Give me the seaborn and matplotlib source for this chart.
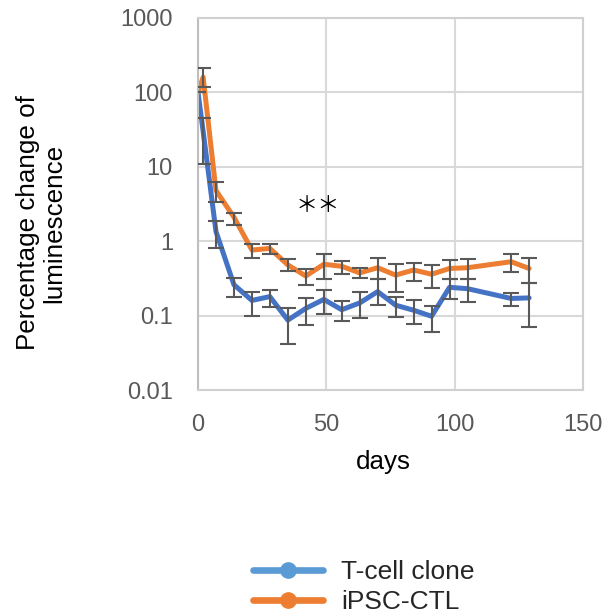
import numpy as np
import pandas as pd
import matplotlib
matplotlib.use("Agg")
import matplotlib.pyplot as plt
from matplotlib.lines import Line2D
import seaborn as sns

# ---- data ----
series_names = ["T-cell clone", "iPSC-CTL"]

tcell_days = [0, 2, 7, 14, 21, 28, 35, 42, 49, 56, 63, 70, 77, 84, 91, 98, 105, 122, 129]
tcell_vals = [100, 30, 1.35, 0.26, 0.16, 0.18, 0.087, 0.125, 0.165, 0.12, 0.148, 0.21,
              0.138, 0.118, 0.098, 0.24, 0.23, 0.17, 0.173]
tcell_hi = [100, 45, 1.86, 0.32, 0.21, 0.22, 0.128, 0.175, 0.22, 0.158, 0.21, 0.31,
            0.18, 0.16, 0.134, 0.31, 0.31, 0.20, 0.275]
tcell_lo = [100, 11, 0.81, 0.18, 0.10, 0.13, 0.041, 0.074, 0.105, 0.085, 0.094, 0.138,
            0.096, 0.077, 0.06, 0.165, 0.15, 0.134, 0.07]

ipsc_days = [0, 2, 7, 14, 21, 28, 35, 42, 49, 56, 63, 70, 77, 84, 91, 98, 105, 122, 129]
ipsc_vals = [100, 160, 4.8, 2.1, 0.76, 0.80, 0.48, 0.34, 0.49, 0.46, 0.375, 0.44,
             0.35, 0.41, 0.36, 0.43, 0.44, 0.53, 0.43]
ipsc_hi = [100, 212, 6.3, 2.36, 0.91, 0.91, 0.57, 0.42, 0.67, 0.55, 0.43, 0.59,
           0.49, 0.51, 0.48, 0.56, 0.57, 0.67, 0.59]
ipsc_lo = [100, 118, 3.4, 1.64, 0.60, 0.68, 0.40, 0.26, 0.31, 0.36, 0.32, 0.31,
           0.21, 0.29, 0.236, 0.31, 0.31, 0.39, 0.275]

y_ticks = [0.01, 0.1, 1, 10, 100, 1000]
y_tick_labels = ["0.01", "0.1", "1", "10", "100", "1000"]
x_ticks = [0, 50, 100, 150]
x_tick_labels = ["0", "50", "100", "150"]

line_colors = {"T-cell clone": "#4472C4", "iPSC-CTL": "#ED7D31"}
legend_colors = {"T-cell clone": "#5B9BD5", "iPSC-CTL": "#ED7D31"}

# ---- build table ----
df = pd.concat([
    pd.DataFrame({"days": tcell_days, "value": tcell_vals, "hi": tcell_hi, "lo": tcell_lo,
                  "series": "T-cell clone"}),
    pd.DataFrame({"days": ipsc_days, "value": ipsc_vals, "hi": ipsc_hi, "lo": ipsc_lo,
                  "series": "iPSC-CTL"}),
], ignore_index=True)

sns.set_theme(style="white")
plt.rcParams["font.family"] = ["Liberation Sans", "DejaVu Sans"]

fig = plt.figure(figsize=(6.07, 6.13), dpi=100)
ax = fig.add_axes([198 / 607, 1 - 390 / 613, (583 - 198) / 607, (390 - 18) / 613])

sns.lineplot(data=df, x="days", y="value", hue="series", hue_order=series_names,
             palette=line_colors, linewidth=3.6, sort=False, errorbar=None,
             legend=False, ax=ax, zorder=2)

for name in series_names:
    sub = df[df["series"] == name]
    yerr = np.vstack([sub["value"] - sub["lo"], sub["hi"] - sub["value"]])
    ax.errorbar(sub["days"], sub["value"], yerr=yerr, fmt="none",
                ecolor="#595959", elinewidth=1.5, capsize=6, capthick=1.5, zorder=3)

ax.set_yscale("log")
ax.set_ylim(0.01, 1000)
ax.set_xlim(0, 150)
ax.set_yticks(y_ticks)
ax.set_yticklabels(y_tick_labels)
ax.set_xticks(x_ticks)
ax.set_xticklabels(x_tick_labels)
ax.minorticks_off()
ax.yaxis.set_minor_locator(matplotlib.ticker.NullLocator())
ax.tick_params(axis="both", length=0, labelsize=17, colors="#595959")
ax.tick_params(axis="y", pad=18)
ax.tick_params(axis="x", pad=17)
ax.grid(True, which="major", color="#d9d9d9", linewidth=1.5)
ax.set_axisbelow(True)
for sp in ax.spines.values():
    sp.set_color("#d0d0d0")
    sp.set_linewidth(1.5)
ax.spines["left"].set_color("#bfbfbf")
ax.set_xlabel("")
ax.set_ylabel("")

# significance marker
ax.text(46.5, 3.0, "＊＊", fontsize=16, ha="center", va="center",
        family=["Noto Sans CJK JP", "DejaVu Sans"], color="black")

# axis titles
fig.text(41 / 607, 1 - 223 / 613, "Percentage change of\nluminescence", rotation=90,
         ha="center", va="center", multialignment="center", fontsize=18.7,
         linespacing=1.15, color="black")
fig.text(383 / 607, 1 - 462 / 613, "days", ha="center", va="center", fontsize=18.7,
         color="black")

# legend
handles = [Line2D([], [], color=legend_colors[n], lw=4.8, marker="o", markersize=11)
           for n in series_names]
fig.legend(handles, series_names, loc="upper left",
           bbox_to_anchor=(253 / 607, 1 - 560 / 613), frameon=False, fontsize=19,
           handlelength=2.65, handletextpad=0.68, labelspacing=0.22,
           borderpad=0, borderaxespad=0)

fig.savefig("out.png", dpi=100)
